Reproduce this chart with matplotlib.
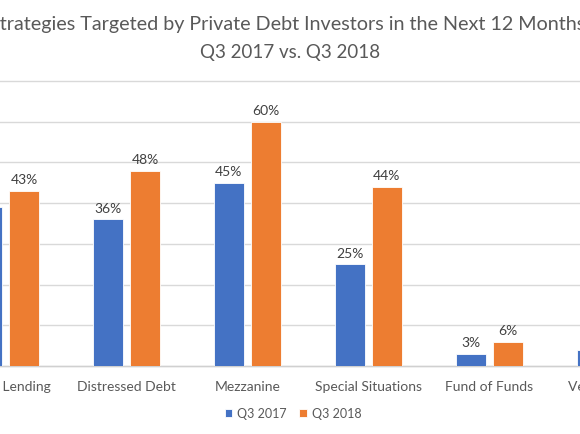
import matplotlib.pyplot as plt
import numpy as np

plt.rcParams['font.family'] = ['Lato', 'DejaVu Sans']

# values (percent of investors)
categories = ['Direct Lending', 'Distressed Debt', 'Mezzanine',
              'Special Situations', 'Fund of Funds', 'Venture Debt']
q3_2017 = [39, 36, 45, 25, 3, 4]
q3_2018 = [43, 48, 60, 44, 6, 9]  # last one is outside the crop, a guess
series_names = ['Q3 2017', 'Q3 2018']

blue = '#4472C4'
orange = '#ED7D31'
text_grey = '#595959'

fig = plt.figure(figsize=(5.8, 4.35), dpi=100)
# the picture is a crop of a wider chart, so the axes run past the right edge
ax_w = 1.2
ax = fig.add_axes([0, 68 / 435, ax_w, (367 - 82) / 435])

x = np.arange(len(categories))
w = 0.248
off = 0.153
b1 = ax.bar(x - off, q3_2017, w, color=blue, edgecolor='white', linewidth=0.6,
            label=series_names[0], zorder=3)
b2 = ax.bar(x + off, q3_2018, w, color=orange, edgecolor='white', linewidth=0.6,
            label=series_names[1], zorder=3)

for bars in (b1, b2):
    ax.bar_label(bars, labels=[f'{v}%' for v in bars.datavalues], padding=4,
                 fontsize=10, color='#404040')

ax.set_xticks(x)
ax.set_xticklabels(categories)
ax.set_yticks(np.arange(0, 71, 10))
px_per_cat = 121
ax.set_xlim(-0.045, -0.045 + 580 * ax_w / px_per_cat)
ax.set_ylim(0, 70)
ax.yaxis.grid(True, color='#d9d9d9', linewidth=1, zorder=0)
for g in ax.yaxis.get_gridlines():
    g.set_clip_on(False)
ax.tick_params(axis='y', left=False, labelleft=False)
ax.tick_params(axis='x', length=0, pad=10, labelsize=10, labelcolor=text_grey)
for s in ['top', 'left', 'right']:
    ax.spines[s].set_visible(False)
ax.spines['bottom'].set_color('#d0d0d0')
ax.spines['bottom'].set_linewidth(1)

fig.text(290 / 580, 1 - 30 / 435,
         'Strategies Targeted by Private Debt Investors in the Next 12 Months:',
         ha='center', va='baseline', fontsize=14.2, color=text_grey)
fig.text(290.5 / 580, 1 - 58 / 435, 'Q3 2017 vs. Q3 2018',
         ha='center', va='baseline', fontsize=13.5, color=text_grey)

fig.legend(handles=[b1, b2], loc='center', bbox_to_anchor=(293 / 580, 1 - 414 / 435),
           ncol=2, frameon=False, fontsize=9, handlelength=0.6, handleheight=0.6,
           handletextpad=0.4, columnspacing=1.0, labelcolor=text_grey)

fig.savefig('out.png', dpi=100)
